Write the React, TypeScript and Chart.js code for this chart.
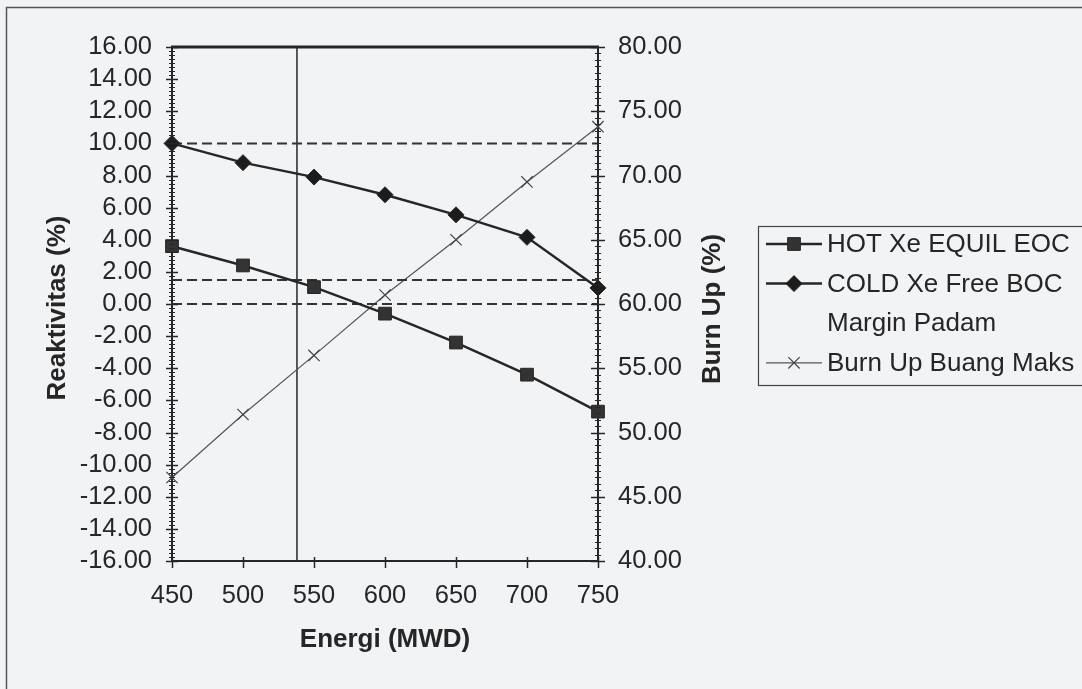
import React, { useEffect, useRef } from 'react';
import { Chart, registerables } from 'chart.js';
import { drawPoint } from 'chart.js/helpers';

Chart.register(...registerables);

// ---- data ----
const energi = [450, 500, 550, 600, 650, 700, 750];
const hotXeEquilEoc = [3.6, 2.4, 1.05, -0.6, -2.4, -4.4, -6.7];
const coldXeFreeBoc = [10.0, 8.8, 7.9, 6.8, 5.55, 4.15, 1.0];
const burnUpBuangMaks = [46.5, 51.4, 56.0, 60.7, 65.0, 69.5, 73.8];
const marginPadamLevels = [10, 1.5, 0];
const batasEnergi = [538];
const reaktivitasRange = [-16, 16, 2];
const burnUpRange = [40, 80, 5];
const energiRange = [450, 750, 50];

const seriesLabels = ['HOT Xe EQUIL EOC', 'COLD Xe Free BOC', 'Margin Padam', 'Burn Up Buang Maks'];

const INK = '#262626';
const BG = '#f2f3f5';
const FONT = '"Liberation Sans", Arial, sans-serif';

function line(ctx: CanvasRenderingContext2D, x1: number, y1: number, x2: number, y2: number) {
  ctx.beginPath();
  ctx.moveTo(x1, y1);
  ctx.lineTo(x2, y2);
  ctx.stroke();
}

const decorPlugin = {
  id: 'decor',
  beforeDraw(chart: any) {
    const { ctx, width, height } = chart;
    ctx.save();
    ctx.fillStyle = BG;
    ctx.fillRect(0, 0, width, height);
    ctx.strokeStyle = '#555';
    ctx.lineWidth = 1.5;
    ctx.strokeRect(6.5, 7.5, width + 40, height + 40);
    ctx.restore();
  },
  afterDraw(chart: any) {
    const { ctx, chartArea: ca, scales } = chart;
    const ys = scales.y;
    const y1s = scales.y1;
    const xs = scales.x;
    ctx.save();
    ctx.strokeStyle = INK;
    ctx.lineCap = 'butt';

    // top frame of plot
    ctx.lineWidth = 3;
    line(ctx, ca.left - 1, ca.top, ca.right + 1, ca.top);

    // left axis ruler ticks
    const [lmin, lmax, lstep] = reaktivitasRange;
    const lsub = 8;
    for (let i = 0; i <= ((lmax - lmin) / lstep) * lsub; i++) {
      const v = lmin + (i * lstep) / lsub;
      const py = Math.round(ys.getPixelForValue(v)) + 0.5;
      const major = i % lsub === 0;
      const len = major ? 6 : 3;
      ctx.lineWidth = major ? 1.5 : 1;
      line(ctx, ca.left - len, py, ca.left + len, py);
    }
    // right axis ruler ticks
    const [rmin, rmax, rstep] = burnUpRange;
    const rsub = 10;
    for (let i = 0; i <= ((rmax - rmin) / rstep) * rsub; i++) {
      const v = rmin + (i * rstep) / rsub;
      const py = Math.round(y1s.getPixelForValue(v)) + 0.5;
      const major = i % rsub === 0;
      const len = major ? 7 : 3;
      ctx.lineWidth = major ? 1.5 : 1;
      line(ctx, ca.right - len, py, ca.right + len, py);
    }
    // bottom axis ticks
    const [xmin, xmax, xstep] = energiRange;
    for (let v = xmin; v <= xmax; v += xstep) {
      const px = Math.round(xs.getPixelForValue(v)) + 0.5;
      ctx.lineWidth = 1.5;
      line(ctx, px, ca.bottom - 4, px, ca.bottom + 7);
    }

    // axis titles
    ctx.fillStyle = INK;
    ctx.font = `bold 26px ${FONT}`;
    ctx.textAlign = 'center';
    ctx.textBaseline = 'middle';
    ctx.fillText('Energi (MWD)', (ca.left + ca.right) / 2, 640);

    ctx.save();
    ctx.translate(58, (ca.top + ca.bottom) / 2 + 4);
    ctx.rotate(-Math.PI / 2);
    ctx.fillText('Reaktivitas (%)', 0, 0);
    ctx.restore();

    ctx.save();
    ctx.translate(713, (ca.top + ca.bottom) / 2 + 5);
    ctx.rotate(-Math.PI / 2);
    ctx.fillText('Burn Up (%)', 0, 0);
    ctx.restore();

    // legend
    const boxL = 758.5, boxT = 226.5, boxB = 385.5;
    ctx.lineWidth = 1.2;
    ctx.strokeStyle = '#444';
    ctx.strokeRect(boxL, boxT, 400, boxB - boxT);
    ctx.font = `26px ${FONT}`;
    ctx.textAlign = 'left';
    ctx.textBaseline = 'middle';
    const ds = chart.data.datasets;
    const legendDs = ds.filter((d: any) => seriesLabels.includes(d.label));
    legendDs.forEach((d: any, i: number) => {
      const cy = 244 + i * 39.6;
      if (d.legendSample !== false) {
        ctx.strokeStyle = d.borderColor;
        ctx.lineWidth = d.borderWidth;
        ctx.setLineDash([]);
        line(ctx, 766, cy, 822, cy);
        const el = {
          pointStyle: d.pointStyle,
          radius: d.pointRadius,
          rotation: 0,
          borderWidth: d.pointBorderWidth ?? 1,
        };
        ctx.fillStyle = d.pointBackgroundColor;
        ctx.strokeStyle = d.pointBorderColor;
        ctx.lineWidth = el.borderWidth;
        drawPoint(ctx, el as any, 794, cy);
      }
      ctx.fillStyle = INK;
      ctx.fillText(d.label, 827, cy + 1);
    });

    ctx.restore();
  },
};

export default function App() {
  const ref = useRef<HTMLCanvasElement | null>(null);

  useEffect(() => {
    document.body.style.margin = '0';
    document.body.style.background = BG;
    const canvas = ref.current!;
    const pts = (ys: number[]) => energi.map((x, i) => ({ x, y: ys[i] }));
    const marginData: any[] = [];
    marginPadamLevels.forEach((lv) => {
      marginData.push({ x: energiRange[0], y: lv });
      marginData.push({ x: energiRange[1], y: lv });
      marginData.push({ x: energiRange[1], y: null });
    });
    const batasData = [
      { x: batasEnergi[0], y: reaktivitasRange[0] },
      { x: batasEnergi[0], y: reaktivitasRange[1] },
    ];

    const tickFont = { family: FONT, size: 25.5 };

    const chart = new Chart(canvas, {
      type: 'line',
      data: {
        datasets: [
          {
            label: seriesLabels[0],
            data: pts(hotXeEquilEoc),
            yAxisID: 'y',
            borderColor: INK,
            borderWidth: 2.5,
            pointStyle: 'rect',
            pointRadius: 9,
            pointBackgroundColor: '#333',
            pointBorderColor: INK,
            pointBorderWidth: 1,
            clip: false,
          } as any,
          {
            label: seriesLabels[1],
            data: pts(coldXeFreeBoc),
            yAxisID: 'y',
            borderColor: INK,
            borderWidth: 2.5,
            pointStyle: 'rectRot',
            pointRadius: 8,
            pointBackgroundColor: '#1c1c1c',
            pointBorderColor: INK,
            pointBorderWidth: 1,
            clip: false,
          } as any,
          {
            label: seriesLabels[2],
            data: marginData,
            yAxisID: 'y',
            borderColor: '#333',
            borderWidth: 2,
            borderDash: [10, 5],
            pointRadius: 0,
            spanGaps: false,
            legendSample: false,
          } as any,
          {
            label: seriesLabels[3],
            data: pts(burnUpBuangMaks),
            yAxisID: 'y1',
            borderColor: '#555',
            borderWidth: 1.2,
            pointStyle: 'crossRot',
            pointRadius: 8,
            pointBackgroundColor: '#555',
            pointBorderColor: '#444',
            pointBorderWidth: 1.2,
            clip: false,
          } as any,
          {
            label: '',
            data: batasData,
            yAxisID: 'y',
            borderColor: INK,
            borderWidth: 1.5,
            pointRadius: 0,
          },
        ],
      },
      options: {
        animation: false,
        responsive: false,
        devicePixelRatio: 1,
        layout: { padding: { left: 0, top: 47, right: 364, bottom: 0 } },
        plugins: {
          legend: { display: false },
          tooltip: { enabled: false },
          title: { display: false },
        },
        elements: { line: { tension: 0 } },
        scales: {
          x: {
            type: 'linear',
            min: energiRange[0],
            max: energiRange[1],
            ticks: {
              stepSize: energiRange[2],
              autoSkip: false,
              color: INK,
              font: tickFont,
              padding: 20,
              maxRotation: 0,
              callback: (v: any) => String(v),
            },
            grid: { display: false, drawTicks: false },
            border: { display: true, color: INK, width: 2 },
            afterFit: (s: any) => {
              s.height = 128;
            },
          },
          y: {
            type: 'linear',
            position: 'left',
            min: reaktivitasRange[0],
            max: reaktivitasRange[1],
            ticks: {
              stepSize: reaktivitasRange[2],
              autoSkip: false,
              color: INK,
              font: tickFont,
              padding: 20,
              callback: (v: any) => Number(v).toFixed(2),
            },
            grid: { display: false, drawTicks: false },
            border: { display: true, color: INK, width: 2 },
            afterFit: (s: any) => {
              s.width = 172;
            },
          },
          y1: {
            type: 'linear',
            position: 'right',
            min: burnUpRange[0],
            max: burnUpRange[1],
            ticks: {
              stepSize: burnUpRange[2],
              autoSkip: false,
              color: INK,
              font: tickFont,
              padding: 20,
              callback: (v: any) => Number(v).toFixed(2),
            },
            grid: { display: false, drawTicks: false },
            border: { display: true, color: INK, width: 2 },
            afterFit: (s: any) => {
              s.width = 120;
            },
          },
        },
      },
      plugins: [decorPlugin],
    });
    return () => chart.destroy();
  }, []);

  return (
    <div style={{ position: 'fixed', left: 0, top: 0, width: 1082, height: 689, background: BG }}>
      <canvas ref={ref} width={1082} height={689} style={{ display: 'block', width: 1082, height: 689 }} />
    </div>
  );
}
